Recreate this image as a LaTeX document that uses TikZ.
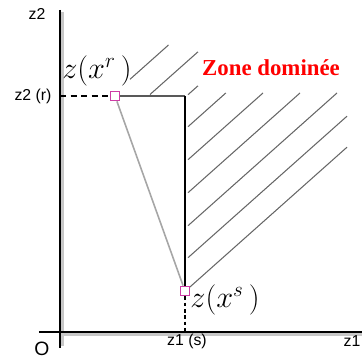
\documentclass[tikz,border=0pt]{standalone}
\usepackage{fontspec}
\setsansfont{Liberation Sans}
\newfontfamily\zonefont{Liberation Serif}
\usetikzlibrary{positioning}
\definecolor{ptpink}{RGB}{205,60,165}
\tikzset{
  axisline/.style={line width=1.1pt, black},
  axisshade/.style={line width=1.3pt, black!22},
  hatchline/.style={line width=0.6pt, black!60},
  frontier/.style={line width=0.9pt, black},
  frontiertop/.style={line width=1.4pt, black!65},
  linkline/.style={line width=0.9pt, black!35},
  dashline/.style={line width=1.1pt, dash pattern=on 3.4pt off 2.6pt},
  dashline2/.style={line width=0.7pt, dash pattern=on 2pt off 1.6pt},
  ptmark/.style={draw=ptpink, fill=white, line width=0.7pt, minimum size=0.19cm, inner sep=0pt},
  axlabel/.style={font=\sffamily\fontsize{9}{10}\selectfont, inner sep=0pt},
  ptlabel/.style={font=\fontsize{17}{19}\selectfont, inner sep=0pt},
  zonelabel/.style={font=\zonefont\bfseries\fontsize{13}{15}\selectfont, text=red, inner sep=0pt}
}
\begin{document}
\begin{tikzpicture}[x=0.02cm, y=-0.02cm]
  \useasboundingbox (0,0) rectangle (363,361);
  % axes
  \coordinate (ytop) at (60,10);
  \coordinate (ybot) at (60,348);
  \coordinate (xleft) at (39,332);
  \coordinate (xright) at (362,332);
  \draw[axisshade] (62.6,12) -- (62.6,346);
  \draw[axisshade] (60,334.4) -- (362,334.4);
  \draw[axisline] (ytop) -- (ybot);
  \draw[axisline, line width=0.8pt] (xleft) -- (xright);
  % hatched zone
  \foreach \xa/\ya/\xb/\yb in {130/79.3/168.5/45, 150/94.5/198/51.8, 188/94.7/198/85.8,
      188/126.7/225.8/93, 188/159.7/263/93, 188/192.7/300/93, 188/225.7/337/93,
      188/257.7/347/116.2, 187/289.6/347/147.2}
    \draw[hatchline] (\xa,\ya) -- (\xb,\yb);
  % points
  \node[ptmark] (ptR) at (115,96) {};
  \node[ptmark] (ptS) at (185,291) {};
  \coordinate (corner) at (185,96);
  \coordinate (yR) at (60,96);
  \coordinate (xS) at (185,332);
  \draw[frontiertop] (ptR) -- (corner);
  \draw[frontier] (corner) -- (ptS);
  \draw[linkline] (ptR) -- (ptS);
  \draw[dashline] (yR) -- (ptR);
  \draw[dashline2] (ptS) -- (xS);
  % labels
  \node[axlabel] (lz2) at (37,14) {z2};
  \node[axlabel] (lz2r) at (33,96) {z2 (r)};
  \node[axlabel] (lz1) at (352,341) {z1};
  \node[axlabel] (lz1s) at (187,341) {z1 (s)};
  \node[axlabel, font=\sffamily\fontsize{11}{12}\selectfont] (lO) at (42,349) {O};
  \node[ptlabel] (lR) at (97,71) {$z\bigl(x^{r}\,\bigr)$};
  \node[ptlabel] (lS) at (225,300) {$z\bigl(x^{s}\,\bigr)$};
  \node[zonelabel] (zone) at (271,68) {Zone dominée};
\end{tikzpicture}
\end{document}
